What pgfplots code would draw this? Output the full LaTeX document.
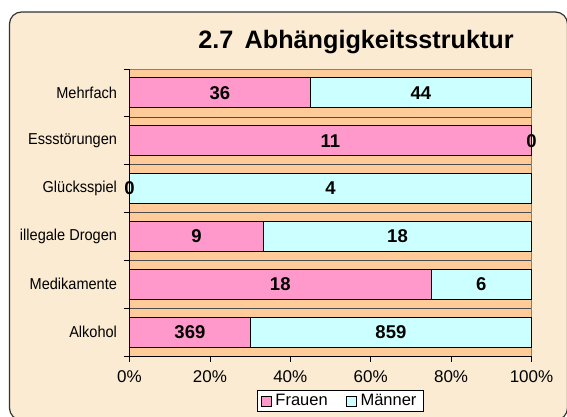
\documentclass[border=0pt]{standalone}
\usepackage{pgfplots}
\pgfplotsset{compat=1.18}
\usepackage{pgfplotstable}
\usepackage{fontspec}
\setmainfont{Liberation Sans}
\newfontfamily\narrowfont[FakeStretch=0.92]{Liberation Sans}
\definecolor{parch}{HTML}{FAEBD2}
\definecolor{plotbg}{HTML}{FFCC99}
\definecolor{fpink}{HTML}{FF99CC}
\definecolor{mcyan}{HTML}{CCFFFF}
\pgfplotstableread{
y F M
0 369 859
1 18 6
2 9 18
3 0 4
4 11 0
5 36 44
}\data
\pgfplotsset{
  geom/.style={scale only axis, width=402pt, height=287pt,
    at={(129.5pt,61pt)}, anchor=south west,
    xmin=0, xmax=100, ymin=-0.5, ymax=5.5},
}
\begin{document}
\begin{tikzpicture}[x=1pt,y=1pt]
\useasboundingbox (0,0) rectangle (567,417);
\clip (0,0) rectangle (567,417);
\fill[white] (0,0) rectangle (567,417);
\filldraw[fill=parch, draw=black!80, line width=1.2pt, rounded corners=12pt] (9.5,-3) rectangle (567.5,405);
\begin{axis}[geom,
  xbar stacked,
  bar width=0.627,
  axis background/.style={fill=plotbg},
  axis line style={draw=gray, line width=0.8pt},
  tick pos=left,
  xtick={0,20,...,100}, xticklabels={0\%,20\%,40\%,60\%,80\%,100\%},
  ytick={-0.5,0.5,...,5.5}, yticklabels={},
  extra y ticks={0,1,2,3,4,5},
  extra y tick labels={Alkohol,Medikamente,illegale Drogen,Glücksspiel,Essstörungen,Mehrfach},
  extra y tick style={major tick length=0pt, grid=none},
  ymajorgrids, major grid style={draw=black!70, line width=0.6pt},
  tick align=outside, major tick length=6pt,
  tick style={draw=black, line width=0.8pt},
  xticklabel style={font=\fontsize{17}{17}\selectfont, yshift=-5pt},
  yticklabel style={font=\narrowfont\fontsize{15.8}{16}\selectfont, xshift=-9pt},
  legend image code/.code={\draw[#1, line width=0.8pt] (0pt,-5pt) rectangle (10pt,5pt);},
  legend style={at={(0.525,-0.157)}, anchor=center, draw=black, fill=white,
    font=\fontsize{16.5}{16.5}\selectfont, legend columns=2,
    /tikz/every even column/.append style={column sep=14pt},
    inner xsep=3pt, inner ysep=2pt,
    nodes={inner xsep=4pt}},
  legend cell align=left,
  clip=false,
  after end axis/.code={\draw[black, line width=0.8pt] (rel axis cs:0,1) -- (rel axis cs:0,0) -- (rel axis cs:1,0);},
]
\addplot[fill=fpink, draw=black, line width=1pt, forget plot]
  table[x expr=100*\thisrow{F}/(\thisrow{F}+\thisrow{M}), y=y] {\data};
\addplot[fill=mcyan, draw=black, line width=1pt, forget plot]
  table[x expr=100*\thisrow{M}/(\thisrow{F}+\thisrow{M}), y=y] {\data};
\addlegendimage{fill=fpink, draw=black}
\addlegendentry{Frauen}
\addlegendimage{fill=mcyan, draw=black}
\addlegendentry{Männer}
\end{axis}
\begin{axis}[geom, hide axis, clip=false,
  /pgf/number format/assume math mode=true,
  nodes near coords={\pgfmathprintnumber{\pgfplotspointmeta}},
  every node near coord/.style={anchor=center, font=\bfseries\fontsize{18.5}{19}\selectfont, text=black},
]
\addplot[draw=none, mark=none, point meta=explicit]
  table[x expr=50*\thisrow{F}/(\thisrow{F}+\thisrow{M}), y=y, meta=F] {\data};
\addplot[draw=none, mark=none, point meta=explicit]
  table[x expr=50+50*\thisrow{F}/(\thisrow{F}+\thisrow{M}), y=y, meta=M] {\data};
\end{axis}
\node[font=\bfseries\fontsize{25.2}{26}\selectfont, anchor=base] at (356,368.7) {2.7\hspace{0.45em}Abhängigkeitsstruktur};
\end{tikzpicture}
\end{document}
